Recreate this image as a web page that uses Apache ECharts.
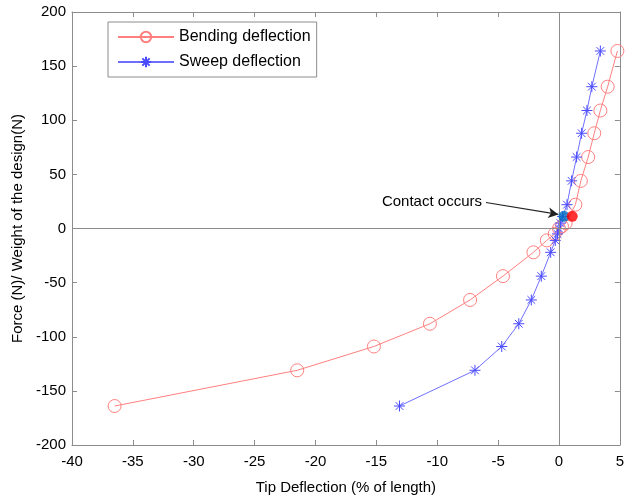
<!DOCTYPE html>
<html><head><meta charset="utf-8">
<script src="https://cdn.jsdelivr.net/npm/echarts@6/dist/echarts.min.js"></script>
<style>html,body{margin:0;padding:0;background:#fff}#c{width:627px;height:500px}</style>
</head><body><div id="c"></div>
<script>
const xTicks = [-40, -35, -30, -25, -20, -15, -10, -5, 0, 5];
const yTicks = [-200, -150, -100, -50, 0, 50, 100, 150, 200];
const bendingX = [-36.5, -21.5, -15.2, -10.6, -7.3, -4.6, -2.1, -1.0, -0.35, 0.0, 0.25, 0.55, 1.35, 1.8, 2.4, 2.9, 3.4, 4.0, 4.8];
const bendingY = [-164, -131, -109, -88, -66, -44, -22, -11, -5, 0, 2, 5, 22, 44, 66, 88, 109, 131, 164];
const sweepX = [-13.1, -6.9, -4.7, -3.3, -2.27, -1.45, -0.68, -0.3, -0.12, 0.0, 0.12, 0.3, 0.66, 1.04, 1.45, 1.86, 2.3, 2.7, 3.4];
const sweepY = [-164, -131, -109, -88, -66, -44, -22, -11, -5, 0, 5, 11, 22, 44, 66, 88, 109, 131, 164];
const contactX = [0.41, 1.09];
const contactY = [11.3, 11.3];
const contactColors = ['#0070c0', '#ff0000'];
const arrowFrom = [-6.0, 24];
const arrowTo = [-0.05, 13];
const annotationText = 'Contact occurs';
const seriesNames = ['Bending deflection', 'Sweep deflection'];
const xName = 'Tip Deflection (% of length)';
const yName = 'Force (N)/ Weight of the design(N)';

const zip = (a, b) => a.map((v, i) => [v, b[i]]);
const star = 'path://M0,-10L0,10M-10,0L10,0M-7,-7L7,7M-7,7L7,-7';
const FONT = 'Liberation Sans, Arial, sans-serif';
const axisGray = '#8c8c8c';

const chart = echarts.init(document.getElementById('c'));
const baseAxis = {
  axisLine: {show: true, onZero: false, lineStyle: {color: axisGray, width: 1}},
  axisTick: {show: true, inside: true, length: 5, lineStyle: {color: axisGray}},
  splitLine: {show: false},
  axisLabel: {color: '#000', fontSize: 15, fontFamily: FONT},
};
chart.setOption({
  animation: false,
  textStyle: {fontFamily: FONT},
  grid: {left: 72, right: 5, top: 12, bottom: 54},
  legend: {
    orient: 'vertical', left: 108, top: 22, padding: [7, 6, 7, 9],
    backgroundColor: '#fff', borderColor: '#8c8c8c', borderWidth: 1,
    itemWidth: 56, itemHeight: 13, itemGap: 9,
    textStyle: {fontSize: 16, color: '#000', fontFamily: FONT},
    data: seriesNames
  },
  xAxis: [
    Object.assign({}, baseAxis, {
      type: 'value', min: xTicks[0], max: xTicks[xTicks.length - 1], interval: 5, position: 'bottom',
      name: xName, nameLocation: 'middle', nameGap: 35,
      nameTextStyle: {fontSize: 15, color: '#000', fontFamily: FONT},
      axisLabel: Object.assign({}, baseAxis.axisLabel, {margin: 9})
    }),
    Object.assign({}, baseAxis, {
      type: 'value', min: xTicks[0], max: xTicks[xTicks.length - 1], interval: 5, position: 'top',
      axisLabel: {show: false}
    })
  ],
  yAxis: [
    Object.assign({}, baseAxis, {
      type: 'value', min: yTicks[0], max: yTicks[yTicks.length - 1], interval: 50, position: 'left',
      name: yName, nameLocation: 'middle', nameGap: 45,
      nameTextStyle: {fontSize: 15, color: '#000', fontFamily: FONT},
      axisLabel: Object.assign({}, baseAxis.axisLabel, {margin: 6})
    }),
    Object.assign({}, baseAxis, {
      type: 'value', min: yTicks[0], max: yTicks[yTicks.length - 1], interval: 50, position: 'right',
      axisLabel: {show: false}
    })
  ],
  series: [
    {
      name: 'zero', type: 'line', data: [], silent: true,
      markLine: {
        silent: true, symbol: ['none', 'none'], label: {show: false},
        lineStyle: {color: axisGray, type: 'solid', width: 1},
        data: [{xAxis: 0}, {yAxis: 0}]
      }
    },
    {
      name: seriesNames[0], type: 'line', data: zip(bendingX, bendingY),
      symbol: 'circle', symbolSize: 13,
      lineStyle: {color: '#ff7f7f', width: 1},
      itemStyle: {color: 'rgba(255,255,255,0)', borderColor: '#ff7f7f', borderWidth: 1},
      z: 3
    },
    {
      name: seriesNames[1], type: 'line', data: zip(sweepX, sweepY),
      symbol: star, symbolSize: 11,
      lineStyle: {color: '#6f6fff', width: 1},
      itemStyle: {color: 'rgba(0,0,0,0)', borderColor: '#4a4aff', borderWidth: 1},
      z: 4
    },
    {
      name: 'contact', type: 'scatter', symbol: 'circle', symbolSize: 11, z: 6,
      data: contactX.map((x, i) => ({value: [x, contactY[i]], itemStyle: {color: contactColors[i]}}))
    },
    {
      name: 'annot', type: 'line', data: [], silent: true,
      markLine: {
        silent: true, symbol: ['none', 'arrow'], symbolSize: [8, 10],
        lineStyle: {color: '#222', type: 'solid', width: 1.2},
        label: {show: true, position: 'start', formatter: annotationText, color: '#000', fontSize: 15, fontFamily: FONT, distance: 4},
        data: [[{coord: arrowFrom}, {coord: arrowTo}]]
      }
    }
  ]
});
</script></body></html>
